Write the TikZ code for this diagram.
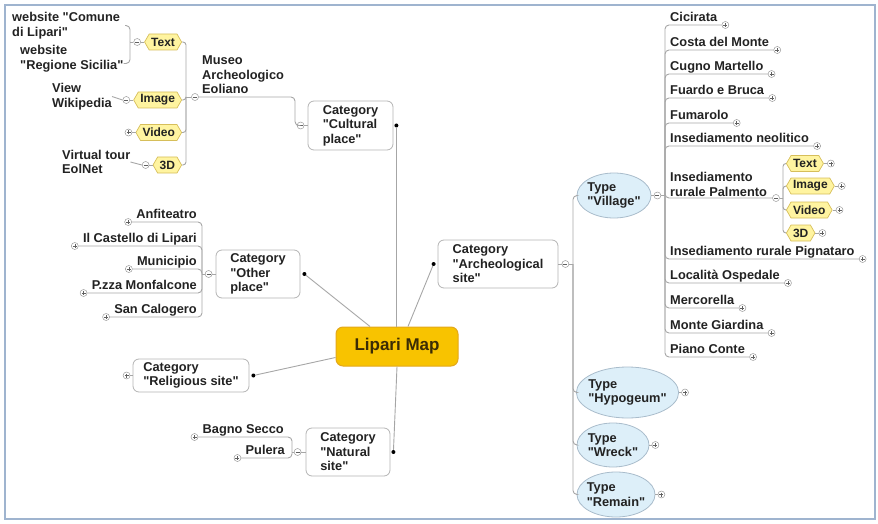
\documentclass[tikz,border=0pt]{standalone}
\usepackage{fontspec}
\setmainfont{Liberation Sans}[Ligatures=TeXOff]
\usetikzlibrary{shapes.geometric,shapes.symbols,calc}
\definecolor{linec}{HTML}{A6A6A6}
\definecolor{boxb}{HTML}{B4B4B4}
\definecolor{txt}{HTML}{222222}
\definecolor{tagfill}{HTML}{FFF4A0}
\definecolor{tagdraw}{HTML}{D6BE5A}
\definecolor{elfill}{HTML}{DDEFF9}
\definecolor{eldraw}{HTML}{A9BCCB}
\definecolor{lipfill}{HTML}{F8C300}
\definecolor{lipdraw}{HTML}{E3A81B}
\definecolor{liptxt}{HTML}{3B2C05}
\definecolor{framec}{HTML}{9FB4CF}
\definecolor{pmc}{HTML}{9A9A9A}
\definecolor{pmsign}{HTML}{606060}
\begin{document}
\begin{tikzpicture}[x=1pt,y=-1pt,
  font=\fontsize{12.8}{14.5}\selectfont\bfseries, text=txt,
  link/.style={draw=linec, line width=0.9pt},
  catbox/.style={rectangle, draw=boxb, fill=white, rounded corners=6pt, line width=0.8pt, align=left, inner sep=0pt},
  leaf/.style={inner sep=0pt, align=left},
  tagbox/.style={signal, signal to=east and west, signal pointer angle=120, draw=tagdraw, fill=tagfill, line width=0.7pt, inner xsep=2pt, inner ysep=2pt, minimum height=16pt, font=\fontsize{12}{12}\selectfont\bfseries},
  typeel/.style={ellipse, draw=eldraw, fill=elfill, line width=0.8pt, align=left, inner xsep=-3pt, inner ysep=-2pt},
  dotc/.style={circle, fill=black, inner sep=0pt, minimum size=4pt},
  pmb/.style={circle, draw=pmc, fill=white, line width=0.5pt, minimum size=7pt, inner sep=0pt},
  plusc/.style={pmb, path picture={\draw[pmsign, line width=0.6pt] ($(path picture bounding box.center)+(-2,0)$) -- ++(4,0) ($(path picture bounding box.center)+(0,-2)$) -- ++(0,4);}},
  minusc/.style={pmb, path picture={\draw[pmsign, line width=0.6pt] ($(path picture bounding box.center)+(-2,0)$) -- ++(4,0);}},
  lipari/.style={rectangle, draw=lipdraw, fill=lipfill, rounded corners=7pt, line width=1pt, minimum width=122pt, minimum height=39pt, text=liptxt, font=\fontsize{17}{17}\selectfont\bfseries}
]
\useasboundingbox (0,0) rectangle (878,524);
\draw[framec, line width=1.5pt] (5,5) rectangle (875,519);

% central
\node[lipari] (lip) at (397,346.5) {Lipari Map};

% categories
\node[catbox, minimum width=85, minimum height=49] (cul) at (350.5,125.5) {Category\\"Cultural\\place"};
\node[catbox, minimum width=84, minimum height=48] (oth) at (258,274) {Category\\"Other\\place"};
\node[catbox, minimum width=116, minimum height=33] (rel) at (191,375.5) {Category\\"Religious site"};
\node[catbox, minimum width=84, minimum height=48] (nat) at (348,452) {Category\\"Natural\\site"};
\node[catbox, minimum width=120, minimum height=48] (arc) at (498,264) {Category\\"Archeological\\site"};

\node[dotc] (cul-d) at ($(cul.east)+(3,0)$) {};
\node[dotc] (oth-d) at ($(oth.east)+(4,0)$) {};
\node[dotc] (rel-d) at ($(rel.east)+(4,0)$) {};
\node[dotc] (nat-d) at ($(nat.east)+(3,0)$) {};
\node[dotc] (arc-d) at ($(arc.west)+(-4,0)$) {};

\node[minusc] (cul-m) at ($(cul.west)+(-7,0)$) {};
\node[minusc] (oth-m) at ($(oth.west)+(-7,0)$) {};
\node[plusc] (rel-p) at ($(rel.west)+(-6,0)$) {};
\node[minusc] (nat-m) at ($(nat.west)+(-8,0)$) {};
\node[minusc] (arc-m) at ($(arc.east)+(7,0)$) {};
\draw[link] (cul.west) -- (cul-m.east);
\draw[link] (oth.west) -- (oth-m.east);
\draw[link] (rel.west) -- (rel-p.east);
\draw[link] (nat.west) -- (nat-m.east);
\draw[link] (arc.east) -- (arc-m.west);

% links to centre
\draw[link] (cul-d) -- (cul-d |- lip.north);
\draw[link] (arc-d) -- ($(lip.north)+(11,0)$);
\draw[link] (oth-d) -- ($(lip.north)+(-27,0)$);
\draw[link] (rel-d) -- ($(lip.west)+(0,11)$);
\draw[link] (nat-d) -- (lip.south);

% ---------- Cultural place branch
\node[leaf, anchor=west] (mus) at (202,75) {Museo\\Archeologico\\Eoliano};
\node[minusc] (mus-m) at (195,97) {};
\coordinate (mc) at (295,97);
\draw[link, rounded corners=4] (mus-m.east) -- (mc) |- (cul-m.west);

\node[tagbox, anchor=east] (tt) at (182,42) {Text};
\node[tagbox, anchor=east] (ti) at (182,100) {Image};
\node[tagbox, anchor=east] (tv) at (182,132.5) {Video};
\node[tagbox, anchor=east] (t3) at (182,165) {3D};
\coordinate (tb0) at (186,97);
\draw[link] (mus-m.west) -- (tb0);
\foreach \t in {tt,ti,tv,t3} \draw[link, rounded corners=3] (tb0) |- (\t.east);

\node[minusc] (tt-m) at ($(tt.west)+(-7,0)$) {};
\node[minusc] (ti-m) at ($(ti.west)+(-7,0)$) {};
\node[plusc] (tv-p) at ($(tv.west)+(-7,0)$) {};
\node[minusc] (t3-m) at ($(t3.west)+(-7,0)$) {};
\draw[link] (tt.west) -- (tt-m.east);
\draw[link] (ti.west) -- (ti-m.east);
\draw[link] (tv.west) -- (tv-p.east);
\draw[link] (t3.west) -- (t3-m.east);

\node[leaf, anchor=west] (web1) at (12,25.5) {website "Comune\\di Lipari"};
\node[leaf, anchor=west] (web2) at (20,58.5) {website\\"Regione Sicilia"};
\coordinate (tb1) at (130,42);
\draw[link] (tt-m.west) -- (tb1);
\draw[link, rounded corners=4] (tb1) |- ($(web1.east)+(5,0)$);
\draw[link, rounded corners=4] (tb1) |- ($(web2.east)+(0,5)$);

\node[leaf, anchor=west] (vw) at (52,96.5) {View\\Wikipedia};
\draw[link] (vw.east) -- (ti-m.west);
\node[leaf, anchor=west] (vt) at (62,162) {Virtual tour\\EolNet};
\draw[link] (vt.east) -- (t3-m.west);

% ---------- Other place branch
\coordinate (ob) at (202,274);
\draw[link] (oth-m.west) -- (ob);
\node[leaf, anchor=base east] (anf) at (197,218.5) {Anfiteatro};
\node[leaf, anchor=base east] (cas) at (197,242.5) {Il Castello di Lipari};
\node[leaf, anchor=base east] (mun) at (197,265.5) {Municipio};
\node[leaf, anchor=base east] (mon) at (197,289.5) {P.zza Monfalcone};
\node[leaf, anchor=base east] (sca) at (197,313.5) {San Calogero};
\foreach \n in {anf,cas,mun,mon,sca} {
  \node[plusc] (\n-p) at ($(\n.base west)+(-8,3.5)$) {};
  \draw[link, rounded corners=4] (ob) |- (\n-p.east);
}

% ---------- Natural site branch
\coordinate (nb) at (292,452);
\draw[link] (nat-m.west) -- (nb);
\node[leaf, anchor=base east] (bag) at (284,433.5) {Bagno Secco};
\node[leaf, anchor=base east] (pul) at (285,454.5) {Pulera};
\foreach \n in {bag,pul} {
  \node[plusc] (\n-p) at ($(\n.base west)+(-8,3.5)$) {};
  \draw[link, rounded corners=4] (nb) |- (\n-p.east);
}

% ---------- Archeological site branch
\coordinate (at) at (573,264);
\draw[link] (arc-m.east) -- (at);
\node[typeel, minimum width=74, minimum height=45] (vil) at (614,195.5) {Type\\"Village"};
\node[typeel, minimum width=101, minimum height=51] (hyp) at (627.5,392.5) {Type\\"Hypogeum"};
\node[typeel, minimum width=72, minimum height=44] (wre) at (613,445) {Type\\"Wreck"};
\node[typeel, minimum width=78, minimum height=45] (rem) at (616,494.5) {Type\\"Remain"};
\foreach \n in {vil,hyp,wre,rem} \draw[link, rounded corners=4] (at) |- (\n.west);
\node[minusc] (vil-m) at ($(vil.east)+(6,0)$) {};
\node[plusc] (hyp-p) at ($(hyp.east)+(6,0)$) {};
\node[plusc] (wre-p) at ($(wre.east)+(6,0)$) {};
\node[plusc] (rem-p) at ($(rem.east)+(6,0)$) {};
\draw[link] (vil.east) -- (vil-m.west);
\draw[link] (hyp.east) -- (hyp-p.west);
\draw[link] (wre.east) -- (wre-p.west);
\draw[link] (rem.east) -- (rem-p.west);

\coordinate (vb) at (665,195.5);
\draw[link] (vil-m.east) -- (vb);
\node[leaf, anchor=base west] (cic) at (670,21.5) {Cicirata};
\node[leaf, anchor=base west] (cos) at (670,46.5) {Costa del Monte};
\node[leaf, anchor=base west] (cug) at (670,70.5) {Cugno Martello};
\node[leaf, anchor=base west] (fua) at (670,94.5) {Fuardo e Bruca};
\node[leaf, anchor=base west] (fum) at (670,119.5) {Fumarolo};
\node[leaf, anchor=base west] (neo) at (670,142.5) {Insediamento neolitico};
\node[leaf, anchor=base west] (pig) at (670,255.5) {Insediamento rurale Pignataro};
\node[leaf, anchor=base west] (osp) at (670,279.5) {Località Ospedale};
\node[leaf, anchor=base west] (mer) at (670,304.5) {Mercorella};
\node[leaf, anchor=base west] (gia) at (670,329.5) {Monte Giardina};
\node[leaf, anchor=base west] (pia) at (670,353.5) {Piano Conte};
\foreach \n in {cic,cos,cug,fua,fum,neo,pig,osp,mer,gia,pia} {
  \node[plusc] (\n-p) at ($(\n.base east)+(8,3.5)$) {};
  \draw[link, rounded corners=4] (vb) |- (\n-p.west);
}

\node[leaf, anchor=west] (pal) at (670,184.5) {Insediamento\\rurale Palmento};
\node[minusc] (pal-m) at (776,198) {};
\draw[link, rounded corners=4] (vb) |- (pal-m.west);
\coordinate (pb) at (783,198);
\draw[link] (pal-m.east) -- (pb);
\node[tagbox, anchor=west] (pt) at (786,163.5) {Text};
\node[tagbox, anchor=west] (pi) at (786,186) {Image};
\node[tagbox, anchor=west] (pv) at (786,210) {Video};
\node[tagbox, anchor=west] (p3) at (786,233) {3D};
\foreach \t in {pt,pi,pv,p3} {
  \draw[link, rounded corners=3] (pb) |- (\t.west);
  \node[plusc] (\t-p) at ($(\t.east)+(7,0)$) {};
  \draw[link] (\t.east) -- (\t-p.west);
}
\end{tikzpicture}
\end{document}
